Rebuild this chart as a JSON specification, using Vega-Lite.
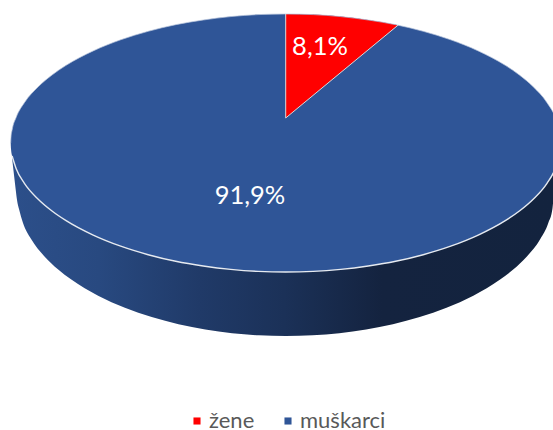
{"$schema":"https://vega.github.io/schema/vega-lite/v6.json","width":553,"height":430,"padding":0,"autosize":{"type":"fit","contains":"padding"},"background":"white","view":{"stroke":null},
"datasets":{
"side":[{"x":12.3,"y":143,"y2":160},{"x":14,"y":143,"y2":175},{"x":15.5,"y":143,"y2":188},{"x":17.5,"y":143,"y2":203},{"x":19,"y":143,"y2":209.1},{"x":23,"y":143,"y2":223},{"x":31.1,"y":143,"y2":239},{"x":44.5,"y":143,"y2":256.5},{"x":57.9,"y":143,"y2":269.3},{"x":71.3,"y":143,"y2":279.6},{"x":98.1,"y":143,"y2":295.7},{"x":124.9,"y":143,"y2":307.8},{"x":151.7,"y":143,"y2":317.1},{"x":178.5,"y":143,"y2":324.3},{"x":205.3,"y":143,"y2":329.5},{"x":232.1,"y":143,"y2":333.2},{"x":258.9,"y":143,"y2":335.3},{"x":285.7,"y":143,"y2":336},{"x":312.5,"y":143,"y2":335.3},{"x":339.3,"y":143,"y2":333.2},{"x":366.1,"y":143,"y2":329.5},{"x":392.9,"y":143,"y2":324.3},{"x":419.7,"y":143,"y2":317.1},{"x":446.5,"y":143,"y2":307.8},{"x":473.3,"y":143,"y2":295.7},{"x":500.1,"y":143,"y2":279.6},{"x":513.5,"y":143,"y2":269.3},{"x":526.9,"y":143,"y2":256.5},{"x":540.3,"y":143,"y2":239},{"x":548.3,"y":143,"y2":223},{"x":552.4,"y":143,"y2":209.1},{"x":553.7,"y":143,"y2":195},{"x":556,"y":143,"y2":170}],
"topface":[{"x":10.7,"y":143,"y2":143,"pol":"muškarci"},{"x":11,"y":137.2,"y2":148.8,"pol":"muškarci"},{"x":12.1,"y":130.1,"y2":155.9,"pol":"muškarci"},{"x":16.2,"y":117.3,"y2":168.7,"pol":"muškarci"},{"x":24.4,"y":102.7,"y2":183.3,"pol":"muškarci"},{"x":38.2,"y":86.8,"y2":199.2,"pol":"muškarci"},{"x":52,"y":75,"y2":211,"pol":"muškarci"},{"x":65.7,"y":65.6,"y2":220.4,"pol":"muškarci"},{"x":93.2,"y":50.9,"y2":235.1,"pol":"muškarci"},{"x":120.7,"y":39.8,"y2":246.2,"pol":"muškarci"},{"x":148.2,"y":31.3,"y2":254.7,"pol":"muškarci"},{"x":175.7,"y":24.7,"y2":261.3,"pol":"muškarci"},{"x":203.2,"y":20,"y2":266,"pol":"muškarci"},{"x":230.7,"y":16.6,"y2":269.4,"pol":"muškarci"},{"x":258.2,"y":14.6,"y2":271.4,"pol":"muškarci"},{"x":285.7,"y":14,"y2":272,"pol":"muškarci"},{"x":313.2,"y":14.6,"y2":271.4,"pol":"muškarci"},{"x":340.7,"y":16.6,"y2":269.4,"pol":"muškarci"},{"x":368.2,"y":20,"y2":266,"pol":"muškarci"},{"x":395.7,"y":24.7,"y2":261.3,"pol":"muškarci"},{"x":423.2,"y":31.3,"y2":254.7,"pol":"muškarci"},{"x":450.7,"y":39.8,"y2":246.2,"pol":"muškarci"},{"x":478.2,"y":50.9,"y2":235.1,"pol":"muškarci"},{"x":505.7,"y":65.6,"y2":220.4,"pol":"muškarci"},{"x":519.4,"y":75,"y2":211,"pol":"muškarci"},{"x":533.2,"y":86.8,"y2":199.2,"pol":"muškarci"},{"x":547,"y":102.7,"y2":183.3,"pol":"muškarci"},{"x":555.2,"y":117.3,"y2":168.7,"pol":"muškarci"},{"x":559.3,"y":130.1,"y2":155.9,"pol":"muškarci"},{"x":560.4,"y":137.2,"y2":148.8,"pol":"muškarci"},{"x":560.7,"y":143,"y2":143,"pol":"muškarci"}],
"wedge":[{"x":285.7,"y":14,"y2":118,"pol":"žene"},{"x":313.2,"y":14.6,"y2":95.2,"pol":"žene"},{"x":340.7,"y":16.6,"y2":72.5,"pol":"žene"},{"x":368.2,"y":20,"y2":49.7,"pol":"žene"},{"x":395.7,"y":24.7,"y2":26.9,"pol":"žene"},{"x":398,"y":25.2,"y2":25,"pol":"žene"}],
"edges":[{"x":285.7,"y":14,"o":1},{"x":285.7,"y":118,"o":2},{"x":398,"y":25.2,"o":3}],
"labels":[{"x":320,"y":47,"share":"8,1%"},{"x":250,"y":195.5,"share":"91,9%"}]
},
"layer":[
{"data":{"name":"side"},"mark":{"type":"area","interpolate":"monotone","clip":true,"color":{"gradient":"linear","x1":0,"x2":1,"y1":0,"y2":0,"stops":[{"offset":0,"color":"#2c4f8a"},{"offset":0.16,"color":"#284980"},{"offset":0.345,"color":"#203a68"},{"offset":0.5,"color":"#1b3158"},{"offset":0.68,"color":"#14233f"},{"offset":1,"color":"#13233e"}]}},
"encoding":{"x":{"field":"x","type":"quantitative","sort":null,"scale":{"domain":[0,553],"nice":false,"zero":false},"axis":null},"y":{"field":"y","type":"quantitative","scale":{"domain":[430,0],"nice":false,"zero":false},"axis":null},"y2":{"field":"y2"}}},
{"data":{"name":"topface"},"mark":{"type":"area","interpolate":"monotone","clip":true},
"encoding":{"x":{"field":"x","type":"quantitative","sort":null,"axis":null},"y":{"field":"y","type":"quantitative","axis":null},"y2":{"field":"y2"},"color":{"field":"pol","type":"nominal","scale":{"domain":["žene","muškarci"],"range":["#ff0000","#2f5597"]},"legend":{"title":null,"orient":"none","legendX":186,"legendY":410,"direction":"horizontal","columns":2,"columnPadding":22,"symbolType":"square","symbolSize":50,"symbolStrokeWidth":0,"labelFont":"Lato","labelFontSize":22,"labelColor":"#595959","labelOffset":1,"padding":0}}}},
{"data":{"name":"wedge"},"mark":{"type":"area","interpolate":"monotone","clip":true},
"encoding":{"x":{"field":"x","type":"quantitative","sort":null,"axis":null},"y":{"field":"y","type":"quantitative","axis":null},"y2":{"field":"y2"},"color":{"field":"pol","type":"nominal"}}},
{"data":{"name":"topface"},"transform":[{"filter":"datum.x >= 12"}],"mark":{"type":"line","interpolate":"monotone","clip":true,"color":"#e6eaf0","strokeWidth":1.4},
"encoding":{"x":{"field":"x","type":"quantitative","sort":null,"axis":null},"y":{"field":"y2","type":"quantitative","axis":null}}},
{"data":{"name":"topface"},"mark":{"type":"line","interpolate":"monotone","clip":true,"color":"#b9c6dc","strokeWidth":0.7},
"encoding":{"x":{"field":"x","type":"quantitative","sort":null,"axis":null},"y":{"field":"y","type":"quantitative","axis":null}}},
{"data":{"name":"edges"},"mark":{"type":"line","clip":true,"color":"#d9d9d9","strokeWidth":1},
"encoding":{"x":{"field":"x","type":"quantitative","sort":null,"axis":null},"y":{"field":"y","type":"quantitative","axis":null},"order":{"field":"o"}}},
{"data":{"name":"labels"},"mark":{"type":"text","font":"Lato","fontSize":25.5,"color":"white","align":"center","baseline":"middle"},
"encoding":{"x":{"field":"x","type":"quantitative","axis":null},"y":{"field":"y","type":"quantitative","axis":null},"text":{"field":"share"}}}
]}
